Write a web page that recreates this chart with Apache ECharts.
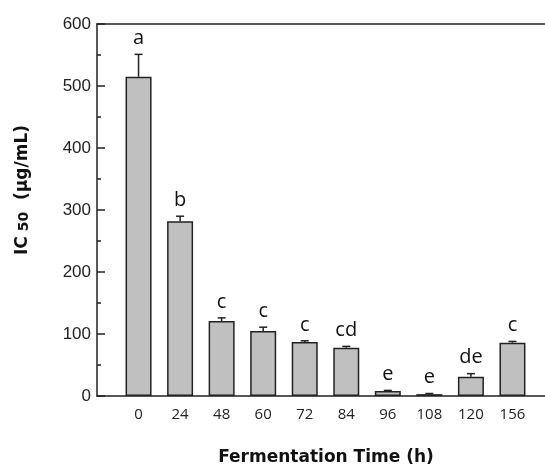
<!DOCTYPE html>
<html>
<head>
<meta charset="utf-8">
<script src="https://cdn.jsdelivr.net/npm/echarts@6/dist/echarts.min.js"></script>
<style>html,body{margin:0;padding:0;background:#fff;}#c{width:545px;height:466px;}</style>
</head>
<body>
<div id="c"></div>
<script>
const categories = ['0', '24', '48', '60', '72', '84', '96', '108', '120', '156'];
const values = [515, 282, 121, 105, 87, 78, 8, 3, 31, 86];
const errors = [36, 8, 5, 6, 2, 2, 1, 1, 5, 2];
const letters = ['a', 'b', 'c', 'c', 'c', 'cd', 'e', 'e', 'de', 'c'];
const yTicks = [0, 100, 200, 300, 400, 500, 600];

const chart = echarts.init(document.getElementById('c'), null, {renderer: 'canvas'});
const barData = values.map((v, i) => [i, v]);
const errData = values.map((v, i) => [i, v, errors[i]]);

chart.setOption({
  animation: false,
  backgroundColor: '#fff',
  grid: {left: 97, top: 24, width: 457, height: 372, outerBoundsMode: 'none', containLabel: false, show: false},
  xAxis: [{
    type: 'value', min: -1, max: 10, interval: 1,
    axisLine: {show: true, onZero: false, lineStyle: {color: '#222', width: 1.5}},
    axisTick: {show: false},
    splitLine: {show: false},
    axisLabel: {
      margin: 11, color: '#222', fontFamily: 'Open Sans', fontSize: 15,
      formatter: v => (categories[v] !== undefined ? categories[v] : '')
    }
  }, {
    type: 'value', position: 'top', min: -1, max: 10, interval: 1,
    axisLine: {show: true, onZero: false, lineStyle: {color: '#222', width: 1.5}},
    axisTick: {show: false}, axisLabel: {show: false}, splitLine: {show: false}
  }],
  yAxis: {
    type: 'value', min: yTicks[0], max: yTicks[yTicks.length - 1], interval: 100,
    axisLine: {show: true, onZero: false, lineStyle: {color: '#222', width: 1.5}},
    axisTick: {show: true, inside: true, length: 8, lineStyle: {color: '#222', width: 1.5}},
    minorTick: {show: true, splitNumber: 2, length: 4, lineStyle: {color: '#222', width: 1.5}},
    splitLine: {show: false},
    axisLabel: {margin: 6, color: '#222', fontFamily: 'Liberation Sans', fontSize: 17}
  },
  series: [
    {
      type: 'bar', data: barData, barWidth: 26,
      itemStyle: {color: '#c0c0c0', borderColor: '#222', borderWidth: 1.5},
      z: 2
    },
    {
      type: 'custom', data: errData, z: 3,
      renderItem: function (params, api) {
        const i = api.value(0), v = api.value(1), e = api.value(2);
        const p0 = api.coord([i, v]);
        const p1 = api.coord([i, v + e]);
        const style = {stroke: '#222', lineWidth: 1.5};
        return {
          type: 'group',
          children: [
            {type: 'line', shape: {x1: p0[0], y1: p0[1], x2: p1[0], y2: p1[1]}, style: style},
            {type: 'line', shape: {x1: p1[0] - 4, y1: p1[1], x2: p1[0] + 4, y2: p1[1]}, style: style},
            {type: 'text', style: {
              text: letters[params.dataIndex], x: p1[0], y: p1[1] - 16,
              align: 'center', verticalAlign: 'middle',
              fontFamily: 'Open Sans', fontSize: 20, fill: '#111'}}
          ]
        };
      }
    }
  ],
  graphic: [
    {
      type: 'text', x: 326, y: 458,
      style: {text: 'Fermentation Time (h)', align: 'center', verticalAlign: 'middle',
        fontFamily: 'DejaVu Sans', fontWeight: 'bold', fontSize: 17, fill: '#111'}
    },
    {
      type: 'text', x: 23, y: 190, rotation: Math.PI / 2,
      style: {
        text: '{a|IC}{b| 50}{a|  (μg/mL)}', align: 'center', verticalAlign: 'middle',
        fontFamily: 'DejaVu Sans', fontWeight: 'bold', fontSize: 17, fill: '#111',
        rich: {
          a: {fontFamily: 'DejaVu Sans', fontWeight: 'bold', fontSize: 17, fill: '#111'},
          b: {fontFamily: 'DejaVu Sans', fontWeight: 'bold', fontSize: 14, fill: '#111', verticalAlign: 'bottom'}
        }
      }
    }
  ]
});
</script>
</body>
</html>
